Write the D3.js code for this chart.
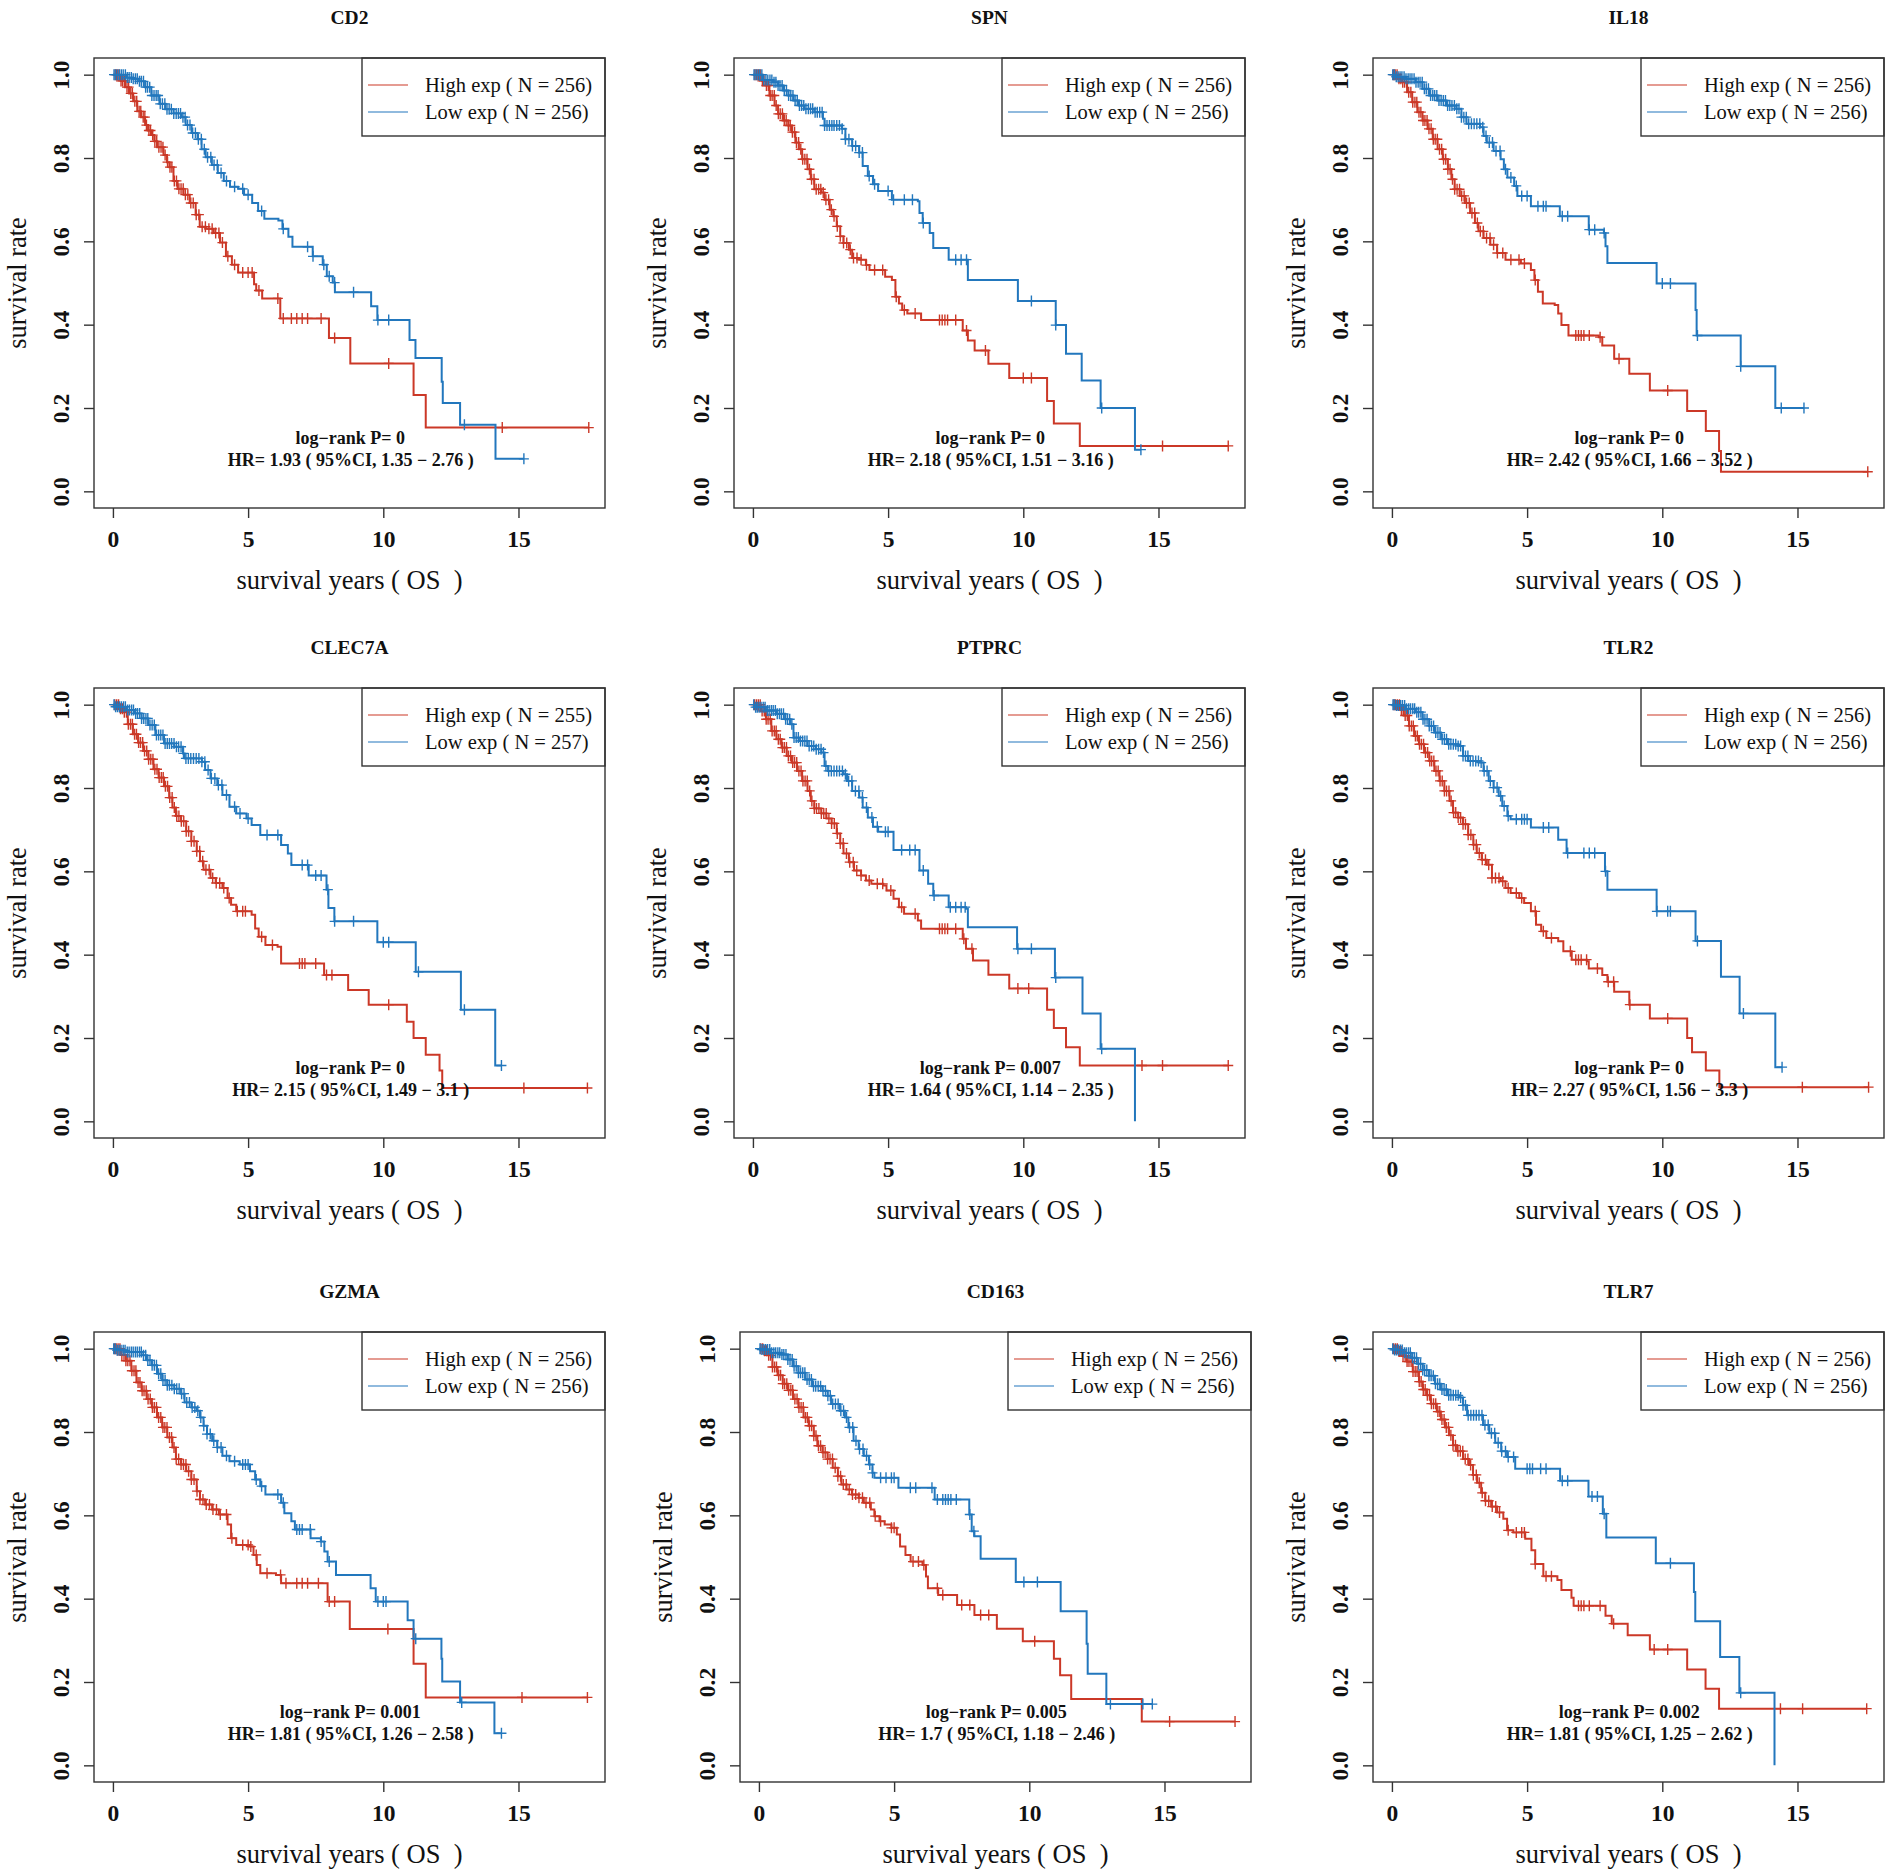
<!DOCTYPE html>
<html>
<head>
<meta charset="utf-8">
<script src="https://cdn.jsdelivr.net/npm/d3@7"></script>
<style>
  body { margin: 0; background: #fff; }
  text { font-family: "Liberation Serif", "Times New Roman", serif; fill: #111; }
</style>
</head>
<body>
<svg id="chart"></svg>
<script>
// 基因与统计量
const genes = ["CD2", "SPN", "IL18", "CLEC7A", "PTPRC", "TLR2", "GZMA", "CD163", "TLR7"];
const highN = [256, 256, 256, 255, 256, 256, 256, 256, 256];
const lowN = [256, 256, 256, 257, 256, 256, 256, 256, 256];
const pValues = ["0", "0", "0", "0", "0.007", "0", "0.001", "0.005", "0.002"];
const hrValues = ["1.93", "2.18", "2.42", "2.15", "1.64", "2.27", "1.81", "1.7", "1.81"];
const ciLow = ["1.35", "1.51", "1.66", "1.49", "1.14", "1.56", "1.26", "1.18", "1.25"];
const ciHigh = ["2.76", "3.16", "3.52", "3.1", "2.35", "3.3", "2.58", "2.46", "2.62"];
const xTicks = [0, 5, 10, 15];
const yTicks = [0, 0.2, 0.4, 0.6, 0.8, 1.0];

// KM 曲线：[时间, 下降后的生存率]；删失时间
const cd2High = [[0.3,0.985],[0.45,0.97],[0.6,0.955],[0.75,0.936],[0.9,0.912],[1.04,0.898],[1.19,0.879],[1.3,0.866],[1.42,0.855],[1.53,0.84],[1.64,0.826],[1.87,0.807],[2.0,0.79],[2.09,0.778],[2.24,0.745],[2.39,0.726],[2.61,0.712],[2.84,0.692],[3.06,0.664],[3.21,0.635],[3.43,0.63],[3.73,0.62],[3.96,0.597],[4.18,0.564],[4.4,0.544],[4.63,0.525],[5.22,0.497],[5.3,0.482],[5.52,0.463],[6.19,0.415],[7.99,0.368],[8.78,0.307],[11.12,0.231],[11.57,0.153]];
const cd2HighCens = [0.08,0.14,0.22,0.3,0.36,0.43,0.52,0.58,0.66,0.72,0.81,0.88,0.97,1.03,1.12,1.18,1.24,1.33,1.39,1.47,1.55,1.62,1.7,1.78,1.85,1.93,2.02,2.11,2.18,2.27,2.35,2.44,2.52,2.6,2.68,2.77,2.88,2.97,3.08,3.18,3.3,3.42,3.55,3.67,3.8,3.92,4.05,4.25,4.5,4.8,5.0,5.15,5.4,6.1,6.3,6.6,6.8,7.0,7.2,7.7,8.2,10.2,14.4,17.6];
const cd2Low = [[0.5,0.993],[0.75,0.99],[0.97,0.984],[1.19,0.97],[1.42,0.95],[1.72,0.93],[1.94,0.917],[2.24,0.907],[2.54,0.898],[2.69,0.879],[2.91,0.86],[3.13,0.845],[3.28,0.821],[3.43,0.802],[3.66,0.783],[3.88,0.764],[4.1,0.745],[4.33,0.731],[4.63,0.726],[4.85,0.712],[5.15,0.692],[5.37,0.673],[5.6,0.654],[6.12,0.65],[6.27,0.63],[6.49,0.611],[6.64,0.587],[7.39,0.564],[7.76,0.544],[7.91,0.516],[8.13,0.501],[8.21,0.478],[9.55,0.444],[9.78,0.411],[10.97,0.363],[11.19,0.32],[12.16,0.263],[12.2,0.212],[12.84,0.16],[14.15,0.078]];
const cd2LowCens = [0.04,0.1,0.17,0.24,0.31,0.38,0.46,0.53,0.6,0.68,0.75,0.83,0.9,0.98,1.05,1.13,1.21,1.28,1.36,1.44,1.52,1.6,1.67,1.75,1.83,1.92,2.0,2.08,2.16,2.25,2.34,2.42,2.5,2.59,2.67,2.76,2.85,2.95,3.05,3.16,3.27,3.38,3.5,3.62,3.74,3.86,4.0,4.2,4.5,4.8,5.0,5.5,6.3,7.2,7.4,7.8,8.0,8.2,8.9,9.8,10.2,13.0,15.2];

const spnHigh = [[0.35,0.985],[0.48,0.974],[0.61,0.95],[0.8,0.926],[0.93,0.906],[1.12,0.89],[1.31,0.878],[1.44,0.862],[1.57,0.837],[1.7,0.821],[1.82,0.797],[2.02,0.773],[2.14,0.749],[2.27,0.725],[2.53,0.717],[2.65,0.7],[2.84,0.676],[2.97,0.66],[3.1,0.636],[3.23,0.612],[3.35,0.596],[3.55,0.58],[3.67,0.56],[3.93,0.556],[4.18,0.543],[4.31,0.531],[4.89,0.515],[5.14,0.507],[5.27,0.467],[5.4,0.451],[5.52,0.435],[5.71,0.427],[6.22,0.411],[7.76,0.386],[7.95,0.362],[8.2,0.338],[8.71,0.306],[9.48,0.272],[10.88,0.217],[11.13,0.163],[12.09,0.109]];
const spnHighCens = [0.07,0.13,0.2,0.27,0.35,0.41,0.5,0.57,0.64,0.71,0.79,0.86,0.94,1.01,1.09,1.16,1.23,1.31,1.38,1.46,1.54,1.61,1.69,1.77,1.84,1.92,2.0,2.09,2.17,2.26,2.34,2.43,2.51,2.6,2.7,2.8,2.9,3.0,3.12,3.23,3.35,3.47,3.6,3.72,3.85,4.0,4.2,4.5,4.8,5.3,5.6,6.0,6.9,7.0,7.1,7.2,7.5,7.9,8.6,10.0,10.3,15.15,17.58];
const spnLow = [[0.36,0.987],[0.74,0.982],[0.93,0.974],[1.12,0.962],[1.31,0.95],[1.5,0.938],[1.7,0.926],[1.89,0.918],[2.27,0.91],[2.59,0.894],[2.65,0.878],[3.29,0.87],[3.42,0.845],[3.67,0.829],[3.93,0.813],[4.06,0.781],[4.25,0.757],[4.44,0.737],[4.63,0.721],[5.14,0.7],[6.1,0.696],[6.16,0.668],[6.28,0.644],[6.54,0.62],[6.67,0.584],[7.24,0.556],[7.95,0.507],[9.8,0.457],[11.2,0.399],[11.58,0.33],[12.16,0.266],[12.86,0.2],[14.13,0.1]];
const spnLowCens = [0.04,0.11,0.18,0.25,0.33,0.4,0.48,0.55,0.63,0.7,0.78,0.85,0.93,1.0,1.08,1.16,1.24,1.32,1.4,1.48,1.56,1.64,1.72,1.8,1.88,1.96,2.05,2.13,2.21,2.3,2.38,2.47,2.56,2.65,2.74,2.83,2.92,3.0,3.1,3.2,3.3,3.42,3.55,3.68,3.8,3.93,4.05,4.3,4.5,5.0,5.2,5.6,5.9,6.3,7.5,7.7,7.9,10.3,11.2,12.9,14.35];

const il18High = [[0.25,0.99],[0.38,0.982],[0.56,0.958],[0.75,0.934],[0.94,0.91],[1.13,0.89],[1.32,0.87],[1.51,0.845],[1.69,0.821],[1.88,0.797],[2.07,0.773],[2.2,0.749],[2.32,0.725],[2.51,0.709],[2.7,0.692],[2.89,0.668],[3.07,0.644],[3.2,0.624],[3.39,0.608],[3.64,0.592],[3.89,0.572],[4.2,0.556],[4.77,0.547],[5.14,0.531],[5.27,0.507],[5.4,0.479],[5.58,0.451],[6.02,0.447],[6.15,0.427],[6.27,0.399],[6.53,0.374],[7.65,0.37],[7.78,0.35],[8.22,0.318],[8.78,0.282],[9.54,0.242],[10.92,0.193],[11.61,0.145],[12.1,0.097],[12.17,0.047]];
const il18HighCens = [0.06,0.12,0.19,0.26,0.33,0.4,0.47,0.55,0.62,0.7,0.77,0.85,0.92,1.0,1.07,1.15,1.22,1.3,1.37,1.45,1.53,1.6,1.68,1.76,1.84,1.91,1.99,2.07,2.15,2.24,2.32,2.41,2.5,2.58,2.67,2.76,2.86,2.96,3.06,3.16,3.27,3.38,3.5,3.63,3.76,3.9,4.1,4.4,4.7,4.9,5.3,6.8,6.9,7.0,7.1,7.3,7.7,8.4,10.2,17.6];
const il18Low = [[0.13,0.995],[0.5,0.99],[0.88,0.982],[1.13,0.966],[1.38,0.95],[1.69,0.938],[2.01,0.926],[2.38,0.918],[2.57,0.898],[2.76,0.882],[3.26,0.874],[3.39,0.853],[3.51,0.837],[3.76,0.817],[4.02,0.797],[4.14,0.773],[4.27,0.753],[4.52,0.733],[4.64,0.709],[5.14,0.684],[6.21,0.66],[7.28,0.628],[7.84,0.62],[7.9,0.588],[7.97,0.548],[9.79,0.499],[11.23,0.435],[11.27,0.374],[12.9,0.3],[14.18,0.2]];
const il18LowCens = [0.03,0.09,0.16,0.23,0.3,0.37,0.45,0.52,0.6,0.67,0.74,0.82,0.89,0.97,1.04,1.12,1.2,1.27,1.35,1.43,1.51,1.58,1.66,1.74,1.82,1.9,1.98,2.06,2.14,2.22,2.31,2.4,2.48,2.57,2.66,2.75,2.84,2.94,3.04,3.14,3.25,3.36,3.48,3.6,3.72,3.85,4.0,4.2,4.4,4.6,4.8,5.0,5.4,5.6,5.7,6.3,6.5,7.3,7.5,7.85,10.0,10.3,11.3,12.9,14.4,15.24];

const clec7aHigh = [[0.25,0.99],[0.36,0.982],[0.55,0.953],[0.74,0.929],[0.93,0.909],[1.12,0.889],[1.31,0.869],[1.5,0.845],[1.69,0.825],[1.89,0.804],[2.08,0.777],[2.2,0.753],[2.33,0.733],[2.52,0.72],[2.71,0.696],[2.9,0.672],[3.1,0.648],[3.22,0.624],[3.35,0.604],[3.61,0.584],[3.8,0.572],[4.05,0.56],[4.24,0.536],[4.37,0.52],[4.56,0.504],[5.13,0.496],[5.26,0.463],[5.39,0.443],[5.64,0.423],[6.09,0.419],[6.22,0.379],[7.81,0.351],[8.7,0.315],[9.46,0.28],[10.87,0.239],[11.12,0.2],[11.57,0.16],[12.08,0.122],[12.18,0.08]];
const clec7aHighCens = [0.07,0.14,0.21,0.28,0.35,0.42,0.5,0.57,0.65,0.72,0.8,0.87,0.95,1.02,1.1,1.17,1.25,1.32,1.4,1.48,1.55,1.63,1.71,1.79,1.86,1.94,2.02,2.1,2.19,2.27,2.36,2.44,2.53,2.62,2.71,2.8,2.9,3.0,3.1,3.21,3.32,3.44,3.56,3.69,3.82,3.95,4.1,4.3,4.6,4.8,4.9,5.5,5.9,6.9,7.0,7.1,7.5,7.9,8.1,10.2,15.2,17.55];
const clec7aLow = [[0.1,0.995],[0.48,0.987],[0.8,0.979],[1.06,0.967],[1.31,0.951],[1.57,0.927],[1.89,0.907],[2.27,0.899],[2.59,0.883],[2.65,0.871],[3.29,0.863],[3.41,0.843],[3.61,0.823],[3.86,0.807],[4.05,0.783],[4.31,0.755],[4.56,0.739],[4.94,0.727],[5.13,0.711],[5.45,0.687],[6.22,0.663],[6.47,0.643],[6.6,0.615],[7.24,0.59],[7.9,0.556],[7.97,0.512],[8.19,0.48],[9.78,0.43],[11.2,0.359],[12.87,0.268],[14.14,0.134]];
const clec7aLowCens = [0.04,0.1,0.17,0.24,0.31,0.39,0.46,0.54,0.61,0.69,0.76,0.84,0.91,0.99,1.06,1.14,1.22,1.29,1.37,1.45,1.53,1.61,1.69,1.77,1.85,1.93,2.01,2.09,2.17,2.26,2.35,2.43,2.52,2.61,2.7,2.79,2.88,2.98,3.08,3.18,3.29,3.4,3.52,3.64,3.77,3.9,4.03,4.2,4.5,4.7,5.0,5.7,6.1,7.0,7.2,7.5,7.7,7.95,8.2,8.9,10.0,10.2,11.3,13.0,14.37];

const ptprcHigh = [[0.3,0.985],[0.48,0.965],[0.68,0.937],[0.87,0.917],[1.06,0.897],[1.25,0.877],[1.44,0.861],[1.63,0.841],[1.82,0.817],[2.02,0.793],[2.14,0.769],[2.27,0.751],[2.53,0.739],[2.72,0.727],[2.91,0.715],[3.1,0.691],[3.23,0.667],[3.35,0.643],[3.55,0.622],[3.74,0.602],[4.0,0.59],[4.18,0.578],[4.38,0.57],[4.82,0.566],[4.94,0.554],[5.2,0.534],[5.4,0.514],[5.59,0.498],[6.1,0.482],[6.22,0.462],[7.76,0.438],[7.88,0.414],[8.14,0.386],[8.71,0.352],[9.48,0.319],[10.88,0.268],[11.13,0.224],[11.58,0.178],[12.09,0.134]];
const ptprcHighCens = [0.06,0.13,0.2,0.27,0.34,0.42,0.49,0.56,0.64,0.71,0.79,0.86,0.94,1.01,1.09,1.16,1.24,1.31,1.39,1.47,1.54,1.62,1.7,1.78,1.85,1.93,2.01,2.1,2.18,2.27,2.35,2.44,2.53,2.62,2.71,2.81,2.91,3.01,3.12,3.23,3.34,3.46,3.58,3.71,3.84,4.0,4.3,4.6,4.8,5.1,5.5,6.0,6.9,7.0,7.1,7.2,7.5,7.8,8.1,9.8,10.2,14.39,15.15,17.58];
const ptprcLow = [[0.1,0.994],[0.48,0.986],[0.87,0.978],[1.19,0.965],[1.38,0.953],[1.5,0.921],[1.7,0.913],[2.02,0.901],[2.33,0.893],[2.53,0.885],[2.65,0.853],[2.78,0.841],[3.35,0.833],[3.48,0.817],[3.67,0.793],[3.93,0.777],[4.06,0.753],[4.25,0.729],[4.44,0.707],[4.63,0.695],[5.2,0.651],[6.16,0.602],[6.48,0.57],[6.67,0.542],[7.24,0.514],[7.88,0.51],[7.95,0.466],[9.77,0.414],[11.17,0.345],[12.19,0.259],[12.86,0.174],[14.13,0.0]];
const ptprcLowCens = [0.03,0.1,0.16,0.23,0.3,0.38,0.45,0.53,0.6,0.68,0.75,0.83,0.9,0.98,1.05,1.13,1.21,1.28,1.36,1.44,1.52,1.6,1.68,1.76,1.84,1.92,2.0,2.08,2.17,2.25,2.34,2.43,2.52,2.61,2.7,2.8,2.9,3.0,3.1,3.2,3.31,3.42,3.54,3.66,3.79,3.92,4.05,4.2,4.4,4.6,4.9,5.0,5.5,5.8,6.0,6.3,6.7,7.3,7.5,7.7,7.85,9.8,10.3,11.2,12.9];

const tlr2High = [[0.3,0.988],[0.44,0.974],[0.63,0.949],[0.82,0.925],[1.0,0.905],[1.19,0.885],[1.38,0.865],[1.57,0.841],[1.76,0.817],[1.94,0.793],[2.13,0.769],[2.26,0.741],[2.45,0.729],[2.63,0.713],[2.82,0.688],[3.01,0.664],[3.14,0.644],[3.32,0.628],[3.51,0.616],[3.7,0.584],[4.02,0.576],[4.2,0.56],[4.39,0.548],[4.71,0.536],[4.89,0.524],[5.14,0.504],[5.33,0.472],[5.52,0.456],[5.71,0.44],[6.15,0.432],[6.34,0.408],[6.65,0.388],[7.21,0.384],[7.28,0.367],[7.78,0.351],[7.97,0.335],[8.22,0.311],[8.78,0.28],[9.54,0.247],[10.92,0.2],[11.1,0.166],[11.61,0.122],[12.11,0.082]];
const tlr2HighCens = [0.07,0.13,0.2,0.28,0.35,0.42,0.49,0.57,0.64,0.72,0.79,0.87,0.94,1.02,1.09,1.17,1.24,1.32,1.4,1.47,1.55,1.63,1.71,1.78,1.86,1.94,2.02,2.11,2.19,2.28,2.36,2.45,2.54,2.63,2.72,2.82,2.92,3.02,3.12,3.23,3.34,3.46,3.58,3.7,3.83,3.96,4.1,4.3,4.6,4.8,5.3,5.6,5.9,6.6,6.8,6.9,7.0,7.2,7.6,8.0,8.2,8.8,10.2,15.18,17.63];
const tlr2Low = [[0.13,0.998],[0.5,0.99],[0.88,0.982],[1.13,0.965],[1.38,0.949],[1.57,0.933],[1.82,0.917],[2.07,0.905],[2.45,0.901],[2.63,0.877],[2.82,0.865],[3.26,0.861],[3.39,0.841],[3.58,0.817],[3.76,0.801],[3.95,0.781],[4.08,0.757],[4.27,0.733],[4.39,0.725],[5.14,0.705],[6.15,0.676],[6.46,0.644],[7.88,0.6],[7.97,0.556],[9.79,0.504],[11.23,0.433],[12.17,0.347],[12.86,0.259],[14.18,0.13]];
const tlr2LowCens = [0.04,0.1,0.17,0.24,0.32,0.39,0.47,0.54,0.62,0.69,0.77,0.84,0.92,0.99,1.07,1.15,1.22,1.3,1.38,1.46,1.54,1.62,1.7,1.78,1.86,1.94,2.02,2.1,2.18,2.27,2.36,2.45,2.54,2.63,2.72,2.81,2.9,3.0,3.1,3.2,3.3,3.41,3.52,3.64,3.76,3.89,4.02,4.15,4.3,4.6,4.8,4.9,5.0,5.6,5.8,6.5,7.1,7.3,7.5,7.9,9.8,10.2,10.3,11.3,13.0,14.43];

const gzmaHigh = [[0.3,0.985],[0.48,0.971],[0.68,0.947],[0.87,0.919],[1.06,0.899],[1.25,0.879],[1.44,0.859],[1.63,0.835],[1.82,0.811],[2.01,0.787],[2.2,0.763],[2.33,0.735],[2.52,0.722],[2.71,0.706],[2.9,0.686],[3.1,0.658],[3.22,0.638],[3.41,0.626],[3.67,0.614],[3.92,0.602],[4.24,0.578],[4.37,0.545],[4.56,0.529],[5.07,0.525],[5.2,0.505],[5.32,0.481],[5.45,0.461],[6.03,0.457],[6.22,0.437],[7.94,0.393],[8.76,0.327],[11.12,0.244],[11.57,0.163]];
const gzmaHighCens = [0.06,0.12,0.19,0.26,0.33,0.41,0.48,0.55,0.63,0.7,0.78,0.85,0.93,1.0,1.08,1.15,1.23,1.3,1.38,1.46,1.53,1.61,1.69,1.77,1.85,1.92,2.0,2.09,2.17,2.26,2.34,2.43,2.52,2.61,2.7,2.8,2.9,3.0,3.11,3.22,3.33,3.45,3.57,3.7,3.83,3.97,4.2,4.4,4.8,5.0,5.1,5.3,5.7,6.2,6.4,6.8,7.0,7.2,7.6,8.0,8.2,10.17,15.13,17.55];
const gzmaLow = [[0.1,0.996],[0.48,0.992],[1.06,0.984],[1.25,0.972],[1.44,0.96],[1.63,0.94],[1.82,0.924],[2.01,0.912],[2.27,0.904],[2.52,0.892],[2.65,0.871],[2.9,0.859],[3.1,0.851],[3.22,0.835],[3.35,0.815],[3.48,0.795],[3.67,0.779],[3.86,0.763],[4.05,0.743],[4.31,0.73],[4.69,0.722],[5.07,0.706],[5.26,0.686],[5.45,0.67],[5.64,0.65],[6.22,0.63],[6.34,0.605],[6.6,0.586],[6.73,0.566],[7.31,0.545],[7.69,0.537],[7.82,0.513],[7.94,0.489],[8.25,0.457],[9.53,0.425],[9.72,0.393],[10.9,0.348],[11.12,0.304],[12.15,0.256],[12.18,0.201],[12.84,0.151],[14.11,0.077]];
const gzmaLowCens = [0.03,0.09,0.16,0.23,0.3,0.38,0.45,0.53,0.6,0.68,0.75,0.83,0.9,0.98,1.05,1.13,1.21,1.29,1.37,1.45,1.53,1.61,1.69,1.77,1.85,1.93,2.01,2.09,2.18,2.27,2.36,2.45,2.54,2.63,2.73,2.83,2.93,3.03,3.14,3.25,3.36,3.48,3.6,3.73,3.86,4.0,4.2,4.5,4.8,4.9,5.0,5.3,5.5,6.1,6.3,6.8,6.9,7.0,7.3,7.7,8.0,9.8,10.0,10.1,11.2,12.9,14.37];

const cd163High = [[0.2,0.995],[0.31,0.984],[0.5,0.956],[0.69,0.936],[0.88,0.916],[1.07,0.9],[1.26,0.879],[1.46,0.859],[1.65,0.835],[1.84,0.815],[2.03,0.791],[2.16,0.767],[2.35,0.751],[2.54,0.735],[2.73,0.714],[2.92,0.694],[3.05,0.674],[3.24,0.662],[3.44,0.65],[3.69,0.642],[3.88,0.63],[4.14,0.614],[4.27,0.598],[4.46,0.586],[4.65,0.578],[4.9,0.57],[5.1,0.554],[5.22,0.525],[5.42,0.505],[5.61,0.489],[6.05,0.481],[6.18,0.453],[6.25,0.425],[6.63,0.409],[7.33,0.385],[7.97,0.361],[8.8,0.328],[9.76,0.298],[10.91,0.256],[11.14,0.216],[11.55,0.159],[14.16,0.105]];
const cd163HighCens = [0.07,0.14,0.21,0.28,0.36,0.43,0.5,0.58,0.65,0.73,0.8,0.88,0.95,1.03,1.1,1.18,1.25,1.33,1.41,1.48,1.56,1.64,1.72,1.79,1.87,1.95,2.03,2.11,2.2,2.28,2.37,2.45,2.54,2.63,2.72,2.82,2.92,3.02,3.12,3.23,3.34,3.46,3.58,3.7,3.83,3.96,4.1,4.3,4.5,4.9,5.0,5.7,5.9,6.1,6.6,6.8,7.5,7.8,8.2,8.5,10.2,15.19,17.61];
const cd163Low = [[0.05,0.998],[0.43,0.99],[0.82,0.986],[1.07,0.974],[1.26,0.958],[1.46,0.942],[1.71,0.926],[1.97,0.91],[2.35,0.899],[2.54,0.887],[2.67,0.867],[2.99,0.851],[3.18,0.835],[3.31,0.811],[3.5,0.779],[3.69,0.759],[3.88,0.743],[4.07,0.722],[4.2,0.702],[4.27,0.69],[5.16,0.666],[6.5,0.638],[7.78,0.602],[7.87,0.562],[7.97,0.55],[8.2,0.496],[9.5,0.44],[11.16,0.37],[12.12,0.292],[12.16,0.22],[12.85,0.147]];
const cd163LowCens = [0.04,0.11,0.18,0.25,0.32,0.4,0.47,0.55,0.62,0.7,0.77,0.85,0.92,1.0,1.07,1.15,1.23,1.3,1.38,1.46,1.54,1.62,1.7,1.78,1.86,1.94,2.02,2.1,2.19,2.28,2.37,2.46,2.55,2.64,2.73,2.83,2.93,3.03,3.13,3.24,3.35,3.47,3.59,3.72,3.85,3.98,4.1,4.2,4.5,4.7,4.9,5.0,5.6,5.8,6.4,6.6,6.8,6.9,7.0,7.1,7.3,7.8,7.95,9.8,10.3,13.0,14.2,14.55];

const tlr7High = [[0.25,0.993],[0.4,0.983],[0.55,0.969],[0.77,0.945],[1.0,0.921],[1.14,0.902],[1.29,0.888],[1.44,0.868],[1.66,0.849],[1.81,0.83],[1.96,0.811],[2.11,0.792],[2.26,0.768],[2.41,0.754],[2.63,0.735],[2.85,0.721],[3.0,0.697],[3.15,0.678],[3.3,0.654],[3.45,0.635],[3.67,0.621],[3.89,0.607],[4.12,0.592],[4.26,0.564],[4.49,0.559],[4.93,0.544],[5.16,0.516],[5.3,0.483],[5.6,0.454],[6.12,0.445],[6.27,0.421],[6.64,0.402],[6.72,0.383],[7.9,0.359],[8.13,0.34],[8.72,0.312],[9.54,0.278],[10.92,0.23],[11.6,0.184],[12.1,0.136]];
const tlr7HighCens = [0.06,0.13,0.2,0.27,0.34,0.41,0.49,0.56,0.63,0.71,0.78,0.86,0.93,1.01,1.08,1.16,1.23,1.31,1.39,1.46,1.54,1.62,1.7,1.77,1.85,1.93,2.01,2.09,2.18,2.26,2.35,2.44,2.53,2.62,2.71,2.81,2.91,3.01,3.12,3.23,3.34,3.46,3.58,3.71,3.84,3.98,4.3,4.6,4.8,4.9,5.3,5.7,5.9,6.9,7.0,7.1,7.3,7.7,8.2,9.7,10.2,14.37,15.19,17.56];
const tlr7Low = [[0.1,0.997],[0.4,0.99],[0.7,0.978],[0.92,0.964],[1.14,0.949],[1.37,0.935],[1.59,0.916],[1.81,0.902],[2.04,0.888],[2.48,0.883],[2.63,0.864],[2.78,0.84],[3.37,0.817],[3.6,0.797],[3.82,0.774],[4.04,0.754],[4.26,0.74],[4.56,0.712],[6.22,0.683],[7.27,0.645],[7.8,0.604],[7.93,0.547],[9.76,0.485],[11.17,0.416],[11.22,0.346],[12.14,0.26],[12.85,0.174],[14.15,0.0]];
const tlr7LowCens = [0.03,0.1,0.17,0.24,0.31,0.38,0.46,0.53,0.61,0.68,0.76,0.83,0.91,0.98,1.06,1.14,1.21,1.29,1.37,1.45,1.53,1.61,1.69,1.77,1.85,1.93,2.01,2.1,2.18,2.27,2.36,2.45,2.54,2.63,2.72,2.82,2.92,3.02,3.12,3.22,3.33,3.44,3.56,3.68,3.8,3.93,4.06,4.2,4.3,4.5,5.0,5.1,5.2,5.5,5.7,6.3,6.5,7.4,7.6,7.85,10.3,12.9];

const highCurves = [cd2High, spnHigh, il18High, clec7aHigh, ptprcHigh, tlr2High, gzmaHigh, cd163High, tlr7High];
const highCens = [cd2HighCens, spnHighCens, il18HighCens, clec7aHighCens, ptprcHighCens, tlr2HighCens, gzmaHighCens, cd163HighCens, tlr7HighCens];
const lowCurves = [cd2Low, spnLow, il18Low, clec7aLow, ptprcLow, tlr2Low, gzmaLow, cd163Low, tlr7Low];
const lowCens = [cd2LowCens, spnLowCens, il18LowCens, clec7aLowCens, ptprcLowCens, tlr2LowCens, gzmaLowCens, cd163LowCens, tlr7LowCens];

// 配置
const colLeft = [94, 734, 1373];
const rowTop = [58, 688, 1332];
const panelShift = [0, 0, 0, 0, 0, 0, 0, 6, 0];
const width = 511, height = 450;
const red = "#cb3827", blue = "#2277bd";
const serif = '"Liberation Serif", "Times New Roman", serif';

const svg = d3.select("#chart")
    .attr("width", 1890)
    .attr("height", 1870)
    .style("background", "#fff");

// 比例尺
const x = d3.scaleLinear().domain([-0.7, 18.2]).range([0, width]);
const y = d3.scaleLinear().domain([-0.04, 1.04]).range([height, 0]);

const line = d3.line()
    .x(function (d) { return x(d[0]); })
    .y(function (d) { return y(d[1]); })
    .curve(d3.curveStepAfter);

function survAt(steps, t) {
    let s = 1;
    steps.forEach(function (d) { if (d[0] <= t) s = d[1]; });
    return s;
}

function drawCurve(g, steps, cens, color) {
    const last = steps[steps.length - 1];
    const tEnd = Math.max(last[0], d3.max(cens));
    const pts = [[0, 1]].concat(steps).concat([[tEnd, last[1]]]);
    g.append("path")
        .attr("d", line(pts))
        .attr("fill", "none")
        .attr("stroke", color)
        .attr("stroke-width", 2);
    const c = g.append("g").attr("stroke", color).attr("stroke-width", 1.4);
    c.selectAll("path.cens")
        .data(cens)
        .enter().append("path")
        .attr("class", "cens")
        .attr("d", function (t) {
            const px = x(t), py = y(survAt(steps, t));
            return "M" + (px - 5) + "," + py + "H" + (px + 5) + "M" + px + "," + (py - 5.5) + "V" + (py + 5.5);
        });
}

genes.forEach(function (gene, i) {
    const left = colLeft[i % 3] + panelShift[i];
    const top = rowTop[Math.floor(i / 3)];
    const g = svg.append("g").attr("transform", "translate(" + left + "," + top + ")");

    // 标题
    g.append("text")
        .attr("x", width / 2).attr("y", -41)
        .attr("text-anchor", "middle").attr("dy", "0.35em")
        .style("font-size", "19.5px").style("font-weight", "bold")
        .text(gene);

    // X轴
    const xa = g.append("g")
        .attr("transform", "translate(0," + height + ")")
        .call(d3.axisBottom(x).tickValues(xTicks).tickSize(10));
    xa.select(".domain").remove();
    xa.selectAll("line").attr("stroke", "#333").attr("stroke-width", 1.4);
    xa.selectAll("text")
        .attr("y", 31).attr("dy", "0.35em")
        .style("font-family", serif).style("font-size", "23.5px").style("font-weight", "bold")
        .attr("fill", "#111");

    // Y轴
    const ya = g.append("g")
        .call(d3.axisLeft(y).tickValues(yTicks).tickFormat(d3.format(".1f")).tickSize(10));
    ya.select(".domain").remove();
    ya.selectAll("line").attr("stroke", "#333").attr("stroke-width", 1.4);
    ya.selectAll("text")
        .attr("x", null).attr("dy", "0.35em")
        .attr("text-anchor", "middle")
        .attr("transform", "translate(-33,0) rotate(-90)")
        .style("font-family", serif).style("font-size", "23.5px").style("font-weight", "bold")
        .attr("fill", "#111");

    // 轴标题
    g.append("text")
        .attr("x", width / 2).attr("y", height + 72).attr("dy", "0.35em")
        .attr("text-anchor", "middle")
        .style("font-size", "26.5px").style("white-space", "pre")
        .text("survival years ( OS  )");
    g.append("text")
        .attr("transform", "translate(-77," + (height / 2) + ") rotate(-90)")
        .attr("dy", "0.35em").attr("text-anchor", "middle")
        .style("font-size", "26.5px")
        .text("survival rate");

    // 曲线
    drawCurve(g, highCurves[i], highCens[i], red);
    drawCurve(g, lowCurves[i], lowCens[i], blue);

    // 统计文字
    g.append("text")
        .attr("x", x(8.78)).attr("y", y(0.128)).attr("dy", "0.35em")
        .attr("text-anchor", "middle")
        .style("font-size", "18px").style("font-weight", "bold")
        .text("log\u2212rank P= " + pValues[i]);
    g.append("text")
        .attr("x", x(8.8)).attr("y", y(0.075)).attr("dy", "0.35em")
        .attr("text-anchor", "middle")
        .style("font-size", "18px").style("font-weight", "bold")
        .text("HR= " + hrValues[i] + " ( 95%CI, " + ciLow[i] + " \u2212 " + ciHigh[i] + " )");

    // 图例
    const lg = g.append("g").attr("transform", "translate(" + (width - 243) + ",0)");
    lg.append("rect")
        .attr("width", 243).attr("height", 78)
        .attr("fill", "#fff").attr("stroke", "#333").attr("stroke-width", 1.4);
    [["High exp ( N = " + highN[i] + ")", red, 27], ["Low exp ( N = " + lowN[i] + ")", blue, 54]].forEach(function (d) {
        lg.append("line")
            .attr("x1", 6).attr("x2", 46).attr("y1", d[2]).attr("y2", d[2])
            .attr("stroke", d[1]).attr("stroke-width", 1.2);
        lg.append("text")
            .attr("x", 63).attr("y", d[2]).attr("dy", "0.35em")
            .style("font-size", "20.5px")
            .text(d[0]);
    });

    // 边框
    g.append("rect")
        .attr("width", width).attr("height", height)
        .attr("fill", "none").attr("stroke", "#333").attr("stroke-width", 1.4);
});
</script>
</body>
</html>
